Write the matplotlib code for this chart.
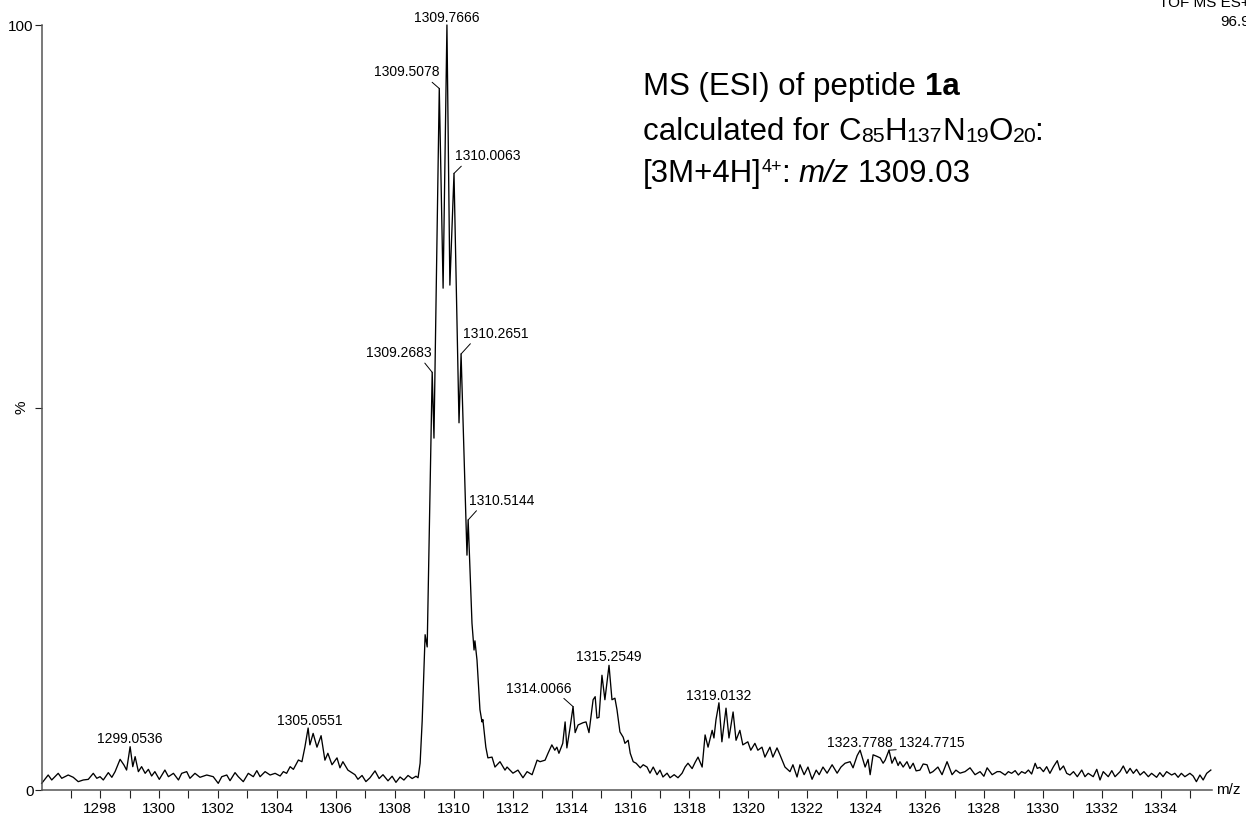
import numpy as np
import matplotlib
matplotlib.use("Agg")
import matplotlib.pyplot as plt

plt.rcParams['font.family'] = ['Liberation Sans', 'DejaVu Sans']

# --- spectrum (m/z, relative intensity %) ---
left_mz = [1296.02, 1296.24, 1296.36, 1296.58, 1296.70, 1296.92, 1297.09, 1297.26, 1297.43, 1297.60,
           1297.77, 1297.89, 1298.00, 1298.11, 1298.28, 1298.40, 1298.51, 1298.68, 1298.81, 1298.90,
           1299.02, 1299.11, 1299.19, 1299.30, 1299.41, 1299.53, 1299.64, 1299.75, 1299.86, 1300.01,
           1300.20, 1300.32, 1300.49, 1300.66, 1300.77, 1300.94, 1301.05, 1301.22, 1301.39, 1301.62,
           1301.84, 1302.01, 1302.13, 1302.30, 1302.41, 1302.58, 1302.69, 1302.86, 1303.03, 1303.20,
           1303.32, 1303.43, 1303.60, 1303.77, 1303.94, 1304.11, 1304.22, 1304.33, 1304.45, 1304.56,
           1304.73]
left_int = [0.87, 1.96, 1.31, 2.18, 1.53, 1.96, 1.66, 1.09, 1.31, 1.39,
            2.18, 1.53, 1.74, 1.31, 2.27, 1.66, 2.40, 4.01, 3.27, 2.61,
            5.66, 3.05, 4.36, 2.40, 3.05, 2.18, 2.70, 1.83, 2.40, 1.39,
            2.61, 1.74, 2.18, 1.31, 2.18, 2.40, 1.53, 2.18, 1.66, 1.96,
            1.74, 0.87, 1.74, 1.96, 1.22, 2.27, 1.74, 1.09, 2.18, 1.74,
            2.53, 1.74, 2.40, 1.96, 2.18, 1.83, 2.40, 2.18, 3.05, 2.70,
            3.92]

c1305_mz = [1304.85, 1304.95, 1305.06, 1305.12, 1305.23, 1305.36, 1305.50, 1305.63, 1305.73, 1305.87,
            1306.04, 1306.14, 1306.24, 1306.41, 1306.65, 1306.75, 1306.89, 1307.02, 1307.16, 1307.33,
            1307.47, 1307.60, 1307.77, 1307.91, 1308.04, 1308.18, 1308.31, 1308.45, 1308.59, 1308.72,
            1308.79]
c1305_int = [3.7, 5.6, 8.1, 5.9, 7.4, 5.6, 7.1, 3.9, 4.8, 3.3,
             4.2, 2.9, 3.7, 2.6, 2.0, 1.4, 1.9, 1.1, 1.6, 2.5,
             1.5, 2.0, 1.2, 1.8, 1.0, 1.7, 1.3, 1.9, 1.5, 1.8,
             1.6]

main_mz = [1308.86, 1308.93, 1309.00, 1309.03, 1309.10, 1309.27, 1309.33, 1309.51, 1309.64, 1309.77,
           1309.87, 1310.01, 1310.18, 1310.25, 1310.45, 1310.49, 1310.56, 1310.62, 1310.69, 1310.72,
           1310.79, 1310.89, 1310.96, 1310.99, 1311.09, 1311.16, 1311.30, 1311.40, 1311.57, 1311.74,
           1311.81, 1312.01, 1312.18, 1312.35, 1312.49, 1312.66]
main_int = [3.5, 9.0, 17.0, 20.3, 18.7, 54.6, 46.0, 91.7, 65.6, 100.0,
            66.0, 80.6, 48.0, 57.0, 30.7, 35.3, 28.0, 21.8, 18.3, 19.5,
            17.0, 10.5, 8.9, 9.2, 5.6, 4.2, 4.3, 3.0, 3.7, 2.6,
            3.0, 2.2, 2.6, 1.6, 2.4, 2.0]

c1315_mz = [1312.83, 1312.93, 1313.10, 1313.20, 1313.33, 1313.43, 1313.50, 1313.57, 1313.70, 1313.78,
            1313.84, 1313.95, 1314.05, 1314.12, 1314.22, 1314.39, 1314.49, 1314.59, 1314.73, 1314.80,
            1314.86, 1314.93, 1315.03, 1315.13, 1315.27, 1315.37, 1315.47, 1315.54, 1315.64, 1315.75,
            1315.81, 1315.92, 1315.99, 1316.09, 1316.19, 1316.33, 1316.43, 1316.56, 1316.66, 1316.77,
            1316.90, 1317.00, 1317.10, 1317.24, 1317.34, 1317.48, 1317.61, 1317.75, 1317.85, 1317.95]
c1315_int = [3.9, 3.7, 3.9, 4.8, 5.9, 5.2, 5.6, 4.8, 6.1, 8.9,
             5.5, 8.2, 10.9, 7.5, 8.5, 8.8, 8.9, 7.5, 11.8, 12.2,
             9.4, 9.5, 15.0, 11.8, 16.3, 11.8, 12.0, 10.5, 7.6, 6.9,
             6.1, 6.5, 4.8, 3.7, 3.5, 2.9, 3.3, 3.0, 2.2, 3.0,
             2.0, 2.6, 1.7, 2.2, 1.6, 2.0, 1.6, 2.2, 3.0, 3.5]

c1319_mz = [1318.09, 1318.19, 1318.29, 1318.43, 1318.53, 1318.63, 1318.77, 1318.83, 1318.90, 1319.00,
            1319.10, 1319.24, 1319.34, 1319.48, 1319.58, 1319.71, 1319.81, 1319.98, 1320.08, 1320.22,
            1320.32, 1320.46, 1320.56, 1320.73, 1320.83, 1320.97, 1321.07, 1321.24, 1321.41, 1321.51,
            1321.65, 1321.75, 1321.89, 1322.02, 1322.16, 1322.30, 1322.40, 1322.53, 1322.67, 1322.84]
c1319_int = [2.8, 3.6, 4.3, 3.0, 7.2, 5.6, 7.8, 6.8, 9.2, 11.4,
             6.3, 10.7, 6.8, 10.2, 6.5, 7.8, 5.9, 6.3, 5.2, 6.1,
             5.2, 5.6, 4.3, 5.6, 4.3, 5.5, 4.6, 3.0, 2.4, 3.3,
             1.7, 3.3, 2.0, 3.0, 1.4, 2.6, 2.0, 3.0, 2.2, 3.3]

c1324_mz = [1323.01, 1323.14, 1323.28, 1323.45, 1323.55, 1323.69, 1323.79, 1323.89, 1323.96, 1324.06,
            1324.13, 1324.23, 1324.36, 1324.47, 1324.57, 1324.64, 1324.77, 1324.87, 1324.97, 1325.08,
            1325.14, 1325.25, 1325.38, 1325.48, 1325.59, 1325.69, 1325.82, 1325.93, 1326.06, 1326.16,
            1326.26, 1326.43, 1326.57, 1326.74, 1326.91, 1327.04, 1327.18, 1327.35, 1327.52, 1327.69,
            1327.86, 1327.99, 1328.10, 1328.27, 1328.44]
c1324_int = [2.2, 3.0, 3.5, 3.7, 2.9, 4.5, 5.2, 3.9, 3.0, 4.0,
             2.0, 4.6, 4.4, 4.2, 3.5, 3.9, 5.2, 3.5, 4.3, 3.2,
             3.7, 3.0, 3.7, 2.8, 3.5, 2.5, 2.6, 3.4, 3.3, 2.2,
             2.4, 3.0, 2.0, 3.7, 2.0, 2.6, 2.2, 2.4, 2.9, 2.0,
             2.4, 1.8, 2.9, 2.0, 2.4]

right_mz = [1328.54, 1328.71, 1328.82, 1328.93, 1329.05, 1329.16, 1329.27, 1329.39, 1329.50, 1329.61,
            1329.73, 1329.80, 1329.89, 1330.01, 1330.12, 1330.23, 1330.35, 1330.48, 1330.57, 1330.69,
            1330.80, 1330.91, 1331.03, 1331.16, 1331.31, 1331.42, 1331.53, 1331.70, 1331.82, 1331.93,
            1332.04, 1332.21, 1332.33, 1332.44, 1332.61, 1332.72, 1332.84, 1332.95, 1333.06, 1333.17,
            1333.29, 1333.42, 1333.57, 1333.68, 1333.85, 1333.96, 1334.07, 1334.19, 1334.36, 1334.47,
            1334.58, 1334.69, 1334.81, 1334.98, 1335.09, 1335.20, 1335.32, 1335.43, 1335.55, 1335.69]
right_int = [2.40, 1.96, 2.40, 2.18, 2.53, 1.96, 2.40, 2.18, 2.61, 2.09,
             3.49, 2.83, 2.96, 2.40, 3.05, 2.18, 3.05, 3.83, 2.61, 3.14,
             2.18, 1.96, 2.40, 1.74, 2.61, 1.74, 2.18, 1.74, 2.70, 1.31,
             2.40, 1.74, 2.53, 1.74, 2.40, 3.14, 2.18, 2.83, 2.18, 2.70,
             1.96, 2.40, 1.74, 2.18, 1.66, 2.27, 1.74, 2.40, 1.96, 2.18,
             1.66, 2.18, 1.74, 2.18, 1.83, 1.09, 1.96, 1.31, 2.18, 2.61]

peak_labels = ['1299.0536', '1305.0551', '1309.2683', '1309.5078', '1309.7666', '1310.0063',
               '1310.2651', '1310.5144', '1314.0066', '1315.2549', '1319.0132', '1323.7788',
               '1324.7715']

mz = np.concatenate([left_mz, c1305_mz, main_mz, c1315_mz, c1319_mz, c1324_mz, right_mz])
inten = np.concatenate([left_int, c1305_int, main_int, c1315_int, c1319_int, c1324_int, right_int])

fig = plt.figure(figsize=(12.46, 8.17), dpi=100)
W, H = 1246.0, 817.0
ax = fig.add_axes([42 / W, 1 - 790 / H, 1170 / W, 765 / H])

ax.plot(mz, inten, color='black', lw=0.95, clip_on=False)

ax.set_xlim(1296.03, 1335.73)
ax.set_ylim(0, 100)

for s in ['top', 'right']:
    ax.spines[s].set_visible(False)
for s in ['left', 'bottom']:
    ax.spines[s].set_color('#555555')
    ax.spines[s].set_linewidth(1.1)

ax.set_xticks(np.arange(1298, 1336, 2))
ax.set_xticks(np.arange(1297, 1336, 2), minor=True)
ax.tick_params(axis='x', which='both', direction='out', length=5.5, width=0.8,
               labelsize=11, pad=3, color='#222222')
ax.set_yticks([0, 50, 100])
ax.set_yticklabels(['0', '', '100'])
ax.tick_params(axis='y', direction='out', length=5, width=0.8, labelsize=11, pad=1,
               color='#222222')

ax.text(-20 / 1170, 0.5, '%', transform=ax.transAxes, rotation=90,
        ha='center', va='center', fontsize=11)
ax.text(1.0137, 0, 'm/z', transform=ax.transAxes, ha='center', va='center', fontsize=11)

# label placement: (dx px, dy px, ha, leader relpos or None)
label_style = {
    '1299.0536': (0, 4, 'center', None),
    '1305.0551': (2, 3, 'center', None),
    '1309.2683': (-1, 15, 'right', 0.86),
    '1309.5078': (0, 12, 'right', 0.83),
    '1309.7666': (0, 3, 'center', None),
    '1310.0063': (1, 13, 'left', 0.15),
    '1310.2651': (2, 16, 'left', 0.16),
    '1310.5144': (1, 15, 'left', 0.16),
    '1314.0066': (-2, 14, 'right', 0.83),
    '1315.2549': (0, 4, 'center', None),
    '1319.0132': (0, 3, 'center', None),
    '1323.7788': (0, 3, 'center', None),
    '1324.7715': (10, 3, 'left', 0.0),
}

for lab in peak_labels:
    m = float(lab)
    win = np.abs(mz - m) < 0.06
    idx = np.where(win)[0][np.argmax(inten[win])]
    px, py = mz[idx], inten[idx]
    dx, dy, ha, rel = label_style[lab]
    kw = {}
    if rel is not None:
        kw['arrowprops'] = dict(arrowstyle='-', color='black', lw=0.7,
                                shrinkA=0, shrinkB=0, relpos=(rel, 0.05))
    ax.annotate(lab, xy=(px, py), xytext=(dx * 0.72, dy * 0.72), textcoords='offset points',
                ha=ha, va='baseline', fontsize=10, annotation_clip=False, **kw)

# header text at the top right (runs off the page like the original)
fig.text(1250 / W, 1 - 7 / H, 'TOF MS ES+', ha='right', va='baseline', fontsize=11)
fig.text(1250 / W, 1 - 26 / H, '96.9', ha='right', va='baseline', fontsize=11)

# description block, written run by run so sub/superscripts sit like the original
renderer = fig.canvas.get_renderer()
base = 22.5
space_px = 0.278 * base * 100 / 72


def draw_runs(x_px, y_px, runs):
    for txt, scale, rise, style, weight, gap in runs:
        x_px += gap * space_px
        t = fig.text(x_px / W, 1 - (y_px - rise) / H, txt, fontsize=base * scale,
                     style=style, weight=weight, va='baseline', ha='left')
        x_px += t.get_window_extent(renderer).width


N, I, B = 'normal', 'italic', 'bold'
draw_runs(643, 95, [('MS (ESI) of peptide', 1, 0, N, N, 0), ('1a', 1, 0, N, B, 1)])
draw_runs(643, 140, [('calculated for', 1, 0, N, N, 0), ('C', 1, 0, N, N, 1),
                     ('85', 0.68, -2, N, N, 0), ('H', 1, 0, N, N, 0),
                     ('137', 0.68, -2, N, N, 0), ('N', 1, 0, N, N, 0),
                     ('19', 0.68, -2, N, N, 0), ('O', 1, 0, N, N, 0),
                     ('20', 0.68, -2, N, N, 0), (':', 1, 0, N, N, -0.25)])
draw_runs(643, 182, [('[3M+4H]', 1, 0, N, N, 0), ('4+', 0.58, 10, N, N, 0),
                     (':', 1, 0, N, N, -0.1), ('m/z', 1, 0, I, N, 1),
                     ('1309.03', 1, 0, N, N, 1)])

fig.savefig('out.png', dpi=100)
